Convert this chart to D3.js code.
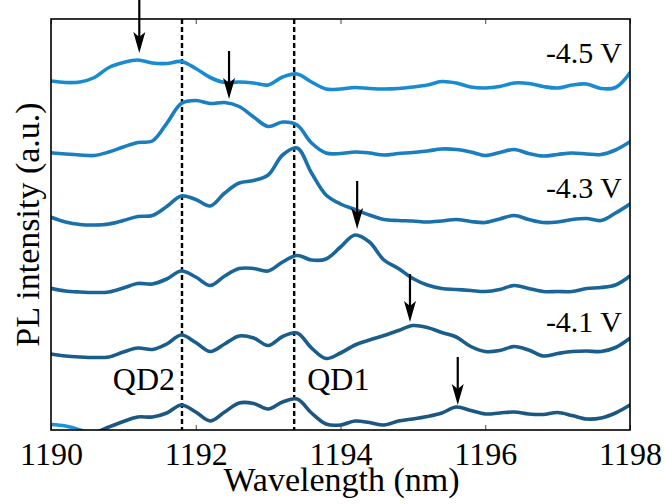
<!DOCTYPE html>
<html>
<head>
<meta charset="utf-8">
<script src="https://cdn.jsdelivr.net/npm/d3@7/dist/d3.min.js"></script>
<style>
  html, body { margin: 0; padding: 0; background: #fff; }
  svg { display: block; }
  text { font-family: "Liberation Serif", "Times New Roman", serif; fill: #000; }
</style>
</head>
<body>
<svg id="chart" width="665" height="504"></svg>
<script>
// Sampling grid of the PL spectra (nm)
const wavelengths = [
  1190.0, 1190.2, 1190.4, 1190.6, 1190.8, 1191.0, 1191.2, 1191.4, 1191.6, 1191.8,
  1192.0, 1192.2, 1192.4, 1192.6, 1192.8, 1193.0, 1193.2, 1193.4, 1193.6, 1193.8,
  1194.0, 1194.2, 1194.4, 1194.6, 1194.8, 1195.0, 1195.2, 1195.4, 1195.6, 1195.8,
  1196.0, 1196.2, 1196.4, 1196.6, 1196.8, 1197.0, 1197.2, 1197.4, 1197.6, 1197.8,
  1198.0
];

// Stacked PL spectra (a.u., vertically offset), from -4.5 V (top) to the lowest bias (bottom)
const spectrum1 = [3.49, 3.475, 3.48, 3.525, 3.625, 3.675, 3.70, 3.67, 3.665, 3.685,
  3.615, 3.525, 3.475, 3.48, 3.47, 3.45, 3.53, 3.56, 3.48, 3.41,
  3.41, 3.425, 3.415, 3.41, 3.415, 3.43, 3.45, 3.485, 3.47, 3.43,
  3.42, 3.435, 3.47, 3.465, 3.435, 3.42, 3.45, 3.46, 3.415, 3.425,
  3.573];
const spectrum2 = [2.773, 2.76, 2.75, 2.745, 2.78, 2.83, 2.875, 2.89, 3.067, 3.265,
  3.295, 3.265, 3.275, 3.235, 3.13, 3.035, 3.08, 3.05, 2.87, 2.77,
  2.765, 2.78, 2.77, 2.75, 2.765, 2.775, 2.79, 2.81, 2.805, 2.78,
  2.745, 2.775, 2.805, 2.765, 2.74, 2.755, 2.77, 2.76, 2.755, 2.80,
  2.883];
const spectrum3 = [2.127, 2.08, 2.055, 2.05, 2.06, 2.095, 2.135, 2.145, 2.235, 2.34,
  2.305, 2.24, 2.37, 2.47, 2.495, 2.55, 2.75, 2.82, 2.57, 2.35,
  2.26, 2.205, 2.15, 2.105, 2.095, 2.09, 2.08, 2.09, 2.105, 2.085,
  2.075, 2.11, 2.145, 2.105, 2.075, 2.08, 2.105, 2.115, 2.095, 2.17,
  2.26];
const spectrum4 = [1.417, 1.39, 1.38, 1.375, 1.38, 1.42, 1.465, 1.46, 1.51, 1.59,
  1.53, 1.445, 1.54, 1.615, 1.615, 1.59, 1.68, 1.745, 1.70, 1.71,
  1.83, 1.95, 1.88, 1.70, 1.615, 1.515, 1.45, 1.415, 1.405, 1.395,
  1.385, 1.405, 1.445, 1.415, 1.385, 1.385, 1.385, 1.415, 1.425, 1.45,
  1.54];
const spectrum5 = [0.76, 0.74, 0.73, 0.725, 0.73, 0.78, 0.82, 0.805, 0.86, 0.95,
  0.875, 0.785, 0.86, 0.94, 0.92, 0.845, 0.935, 0.97, 0.82, 0.715,
  0.77, 0.85, 0.90, 0.945, 0.995, 1.045, 1.025, 0.975, 0.93, 0.835,
  0.785, 0.795, 0.835, 0.80, 0.74, 0.765, 0.785, 0.79, 0.785, 0.825,
  0.917];
const spectrum6 = [-0.10, -0.09, -0.07, -0.03, 0.03, 0.085, 0.13, 0.13, 0.17, 0.25,
  0.18, 0.09, 0.18, 0.27, 0.265, 0.21, 0.28, 0.31, 0.17, 0.06,
  0.05, 0.09, 0.075, 0.05, 0.09, 0.11, 0.135, 0.17, 0.23, 0.195,
  0.16, 0.17, 0.18, 0.16, 0.155, 0.175, 0.145, 0.11, 0.12, 0.17,
  0.25];
// Next spectrum down, only its start enters the frame
const spectrum7 = [0.055, 0.04, 0.0, -0.06, -0.15];

const spectra = [spectrum1, spectrum2, spectrum3, spectrum4, spectrum5, spectrum6];
const spectrumColors = ["#198bd0", "#1a7ebf", "#1a71aa", "#1a6597", "#1a5d8a", "#1b5781"];
const tailColor = "#1b93da";

// Bias labels and the spectrum level each one sits at
const biasLabels = ["-4.5 V", "-4.3 V", "-4.1 V"];
const biasLabelLevels = [3.67, 2.32, 0.985];

// Quantum-dot reference lines
const dotNames = ["QD2", "QD1"];
const dotWavelengths = [1191.81, 1193.36];

// Tracked emission peak, marked by arrows
const arrowWavelengths = [1191.22, 1192.46, 1194.23, 1194.96, 1195.62];
const arrowTips = [3.77, 3.31, 2.01, 1.08, 0.25];

const xTicks = [1190, 1192, 1194, 1196, 1198];

const svg = d3.select("#chart");
const plotLeft = 51, plotRight = 630, plotTop = 19, plotBottom = 430;

const x = d3.scaleLinear().domain([1190, 1198]).range([plotLeft, plotRight]);
const y = d3.scaleLinear().domain([0, 4.11]).range([plotBottom, plotTop]);

svg.append("defs").append("clipPath").attr("id", "plot-clip")
  .append("rect").attr("x", plotLeft).attr("y", plotTop)
  .attr("width", plotRight - plotLeft).attr("height", plotBottom - plotTop);

// Dashed reference lines
svg.append("g").selectAll("line").data(dotWavelengths).join("line")
  .attr("x1", d => x(d)).attr("x2", d => x(d))
  .attr("y1", plotTop).attr("y2", plotBottom)
  .attr("stroke", "#000").attr("stroke-width", 2.4)
  .attr("stroke-dasharray", "5,3");

// Spectra
const line = d3.line()
  .x((d, i) => x(wavelengths[i]))
  .y(d => y(d))
  .curve(d3.curveCatmullRom.alpha(0.5));

const traces = svg.append("g").attr("clip-path", "url(#plot-clip)");
traces.selectAll("path.spec").data(spectra).join("path")
  .attr("class", "spec")
  .attr("d", line)
  .attr("fill", "none")
  .attr("stroke", (d, i) => spectrumColors[i])
  .attr("stroke-width", 3.6)
  .attr("stroke-linejoin", "round")
  .attr("stroke-linecap", "round");

traces.append("path")
  .datum(spectrum7)
  .attr("d", line)
  .attr("fill", "none")
  .attr("stroke", tailColor)
  .attr("stroke-width", 3.6)
  .attr("stroke-linecap", "round");

// Axes: inward ticks on top and bottom, frame drawn separately
const xAxisBottom = d3.axisBottom(x).tickValues(xTicks).tickSize(-5).tickFormat(d3.format("d"));
const gb = svg.append("g").attr("transform", `translate(0,${plotBottom})`).call(xAxisBottom);
gb.select(".domain").remove();
gb.selectAll(".tick line").attr("stroke", "#444").attr("stroke-width", 1);
gb.selectAll(".tick text")
  .attr("y", 35).attr("dy", null)
  .style("font-family", '"Liberation Serif", "Times New Roman", serif')
  .style("font-size", "32px").attr("fill", "#000");

const xAxisTop = d3.axisTop(x).tickValues(xTicks).tickSize(-5).tickFormat("");
const gt = svg.append("g").attr("transform", `translate(0,${plotTop})`).call(xAxisTop);
gt.select(".domain").remove();
gt.selectAll(".tick line").attr("stroke", "#444").attr("stroke-width", 1);

svg.append("rect")
  .attr("x", plotLeft).attr("y", plotTop)
  .attr("width", plotRight - plotLeft).attr("height", plotBottom - plotTop)
  .attr("fill", "none").attr("stroke", "#000").attr("stroke-width", 1.6);

// Axis titles
svg.append("text")
  .attr("x", (plotLeft + plotRight) / 2 + 1).attr("y", 491)
  .attr("text-anchor", "middle")
  .style("font-size", "34px")
  .text("Wavelength (nm)");

svg.append("text")
  .attr("transform", `translate(39,${(plotTop + plotBottom) / 2}) rotate(-90)`)
  .attr("text-anchor", "middle")
  .style("font-size", "34px")
  .text("PL intensity (a.u.)");

// Bias labels
svg.append("g").selectAll("text").data(biasLabels).join("text")
  .attr("x", plotRight - 8)
  .attr("y", (d, i) => y(biasLabelLevels[i]))
  .attr("text-anchor", "end")
  .style("font-size", "30px")
  .text(d => d);

// Quantum dot labels beside their lines
svg.append("g").selectAll("text").data(dotNames).join("text")
  .attr("x", (d, i) => i === 0 ? x(dotWavelengths[i]) - 7 : x(dotWavelengths[i]) + 13)
  .attr("y", 390)
  .attr("text-anchor", (d, i) => i === 0 ? "end" : "start")
  .style("font-size", "32px")
  .text(d => d);

// Peak arrows
const arrowLen = 48;
const arrows = svg.append("g").selectAll("g").data(arrowWavelengths).join("g")
  .attr("transform", (d, i) => `translate(${x(d)},${y(arrowTips[i])})`);
arrows.append("line")
  .attr("x1", 0).attr("x2", 0)
  .attr("y1", (d, i) => i === 0 ? -y(arrowTips[0]) : -arrowLen).attr("y2", -12)
  .attr("stroke", "#000").attr("stroke-width", 2.2);
arrows.append("path")
  .attr("d", "M0,0 L-6,-21 L0,-16 L6,-21 Z")
  .attr("fill", "#000");
</script>
</body>
</html>
